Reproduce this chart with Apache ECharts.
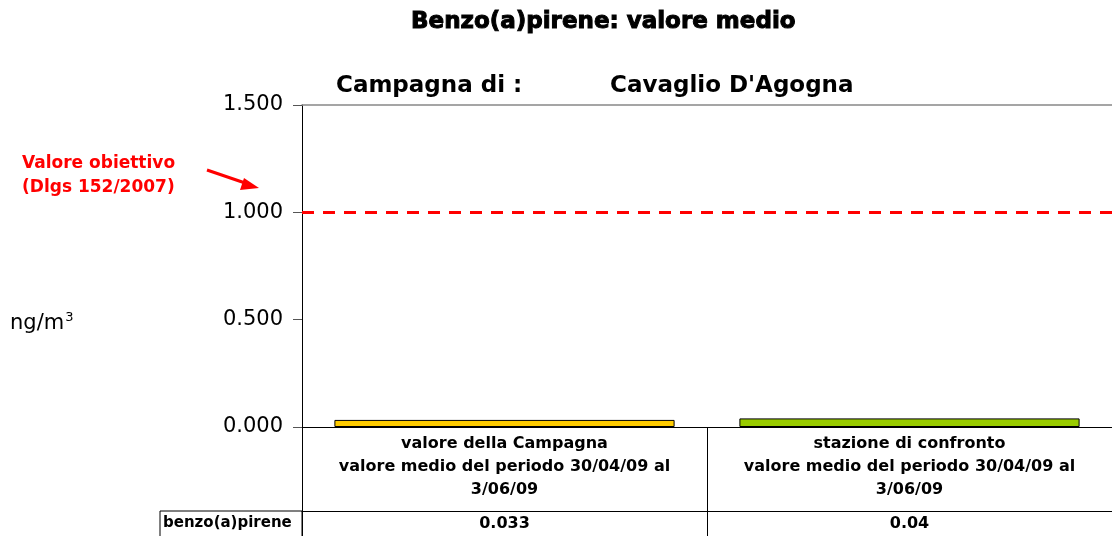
<!DOCTYPE html>
<html>
<head>
<meta charset="utf-8">
<script src="https://cdn.jsdelivr.net/npm/echarts@6/dist/echarts.min.js"></script>
<style>
  html, body { margin: 0; padding: 0; background: #fff; }
  #chart { width: 1112px; height: 536px; }
</style>
</head>
<body>
<div id="chart"></div>
<script>
// categorie e valori (ng/m3)
const categories = [
  'valore della Campagna\nvalore medio del periodo 30/04/09 al\n3/06/09',
  'stazione di confronto\nvalore medio del periodo 30/04/09 al\n3/06/09'
]
const values = [0.033, 0.04]
const valueLabels = ['0.033', '0.04']
const barColors = ['#FFCC00', '#99CC00']
const targetValue = 1.0
const yTicks = [0, 0.5, 1.0, 1.5]

const comic = '"DejaVu Sans", sans-serif'
const myChart = echarts.init(document.getElementById('chart'))

let option = {
  backgroundColor: '#fff',
  animation: false,
  title: [
    {
      text: 'Benzo(a)pirene: valore medio',
      left: 406,
      top: 6,
      textStyle: {
        fontFamily: '"DejaVu Sans", sans-serif', fontWeight: 'bold', fontSize: 23, color: '#000',
        textBorderColor: '#000', textBorderWidth: 1
      }
    },
    {
      text: 'Campagna di :',
      left: 331,
      top: 70,
      textStyle: { fontFamily: '"DejaVu Sans", sans-serif', fontWeight: 'bold', fontSize: 23, color: '#000' }
    },
    {
      text: "Cavaglio D'Agogna",
      left: 605,
      top: 70,
      textStyle: { fontFamily: '"DejaVu Sans", sans-serif', fontWeight: 'bold', fontSize: 23, color: '#000' }
    }
  ],
  grid: { left: 302, right: 0, top: 105, bottom: 109 },
  xAxis: [
    {
      type: 'category',
      data: categories,
      axisLine: { lineStyle: { color: '#000', width: 1 } },
      axisTick: { show: true, length: 109, lineStyle: { color: '#000' } },
      axisLabel: {
        interval: 0,
        margin: 5,
        lineHeight: 23,
        fontFamily: comic,
        fontSize: 16,
        fontWeight: 'bold',
        color: '#000'
      }
    },
    {
      type: 'category',
      data: valueLabels,
      position: 'bottom',
      offset: 84,
      axisLine: { show: true, lineStyle: { color: '#000', width: 1 } },
      axisTick: { show: false },
      axisLabel: { interval: 0, margin: 5, fontFamily: comic, fontSize: 16, fontWeight: 'bold', color: '#000' }
    },
    {
      type: 'category',
      data: categories,
      position: 'top',
      axisLine: { show: true, lineStyle: { color: '#888', width: 1.5 } },
      axisTick: { show: false },
      axisLabel: { show: false }
    }
  ],
  yAxis: {
    type: 'value',
    min: yTicks[0],
    max: yTicks[yTicks.length - 1],
    interval: 0.5,
    axisLine: { show: true, lineStyle: { color: '#000', width: 1 } },
    axisTick: { show: true, length: 9, lineStyle: { color: '#555' } },
    splitLine: { show: false },
    axisLabel: {
      margin: 19,
      fontFamily: '"DejaVu Sans", sans-serif',
      fontSize: 21,
      color: '#000',
      formatter: v => v.toFixed(3)
    }
  },
  series: [
    {
      type: 'bar',
      xAxisIndex: 0,
      barWidth: '84%',
      data: values.map((v, i) => ({
        value: v,
        itemStyle: { color: barColors[i], borderColor: '#000', borderWidth: 1 }
      })),
      markLine: {
        symbol: 'none',
        silent: true,
        label: { show: false },
        lineStyle: { color: '#FF0000', width: 3, type: [12, 9] },
        data: [{ yAxis: targetValue }]
      }
    }
  ],
  graphic: [
    {
      type: 'rect',
      shape: { x: 160, y: 511, width: 142, height: 30 },
      style: { fill: 'none', stroke: '#000', lineWidth: 1 }
    },
    {
      type: 'text',
      left: 163,
      top: 516,
      style: { text: 'benzo(a)pirene', font: 'bold 15px "DejaVu Sans", sans-serif', fill: '#000' }
    },
    {
      type: 'text',
      left: 10,
      top: 311,
      style: {
        text: '{a|ng/m}{b|3}',
        rich: {
          a: { fontFamily: '"DejaVu Sans", sans-serif', fontSize: 21, color: '#000' },
          b: { fontFamily: '"DejaVu Sans", sans-serif', fontSize: 13, color: '#000', verticalAlign: 'top', padding: [0, 0, 12, 1] }
        }
      }
    },
    {
      type: 'text',
      left: 22,
      top: 152,
      style: {
        text: 'Valore obiettivo\n(Dlgs 152/2007)',
        font: 'bold 17px "DejaVu Sans", sans-serif',
        lineHeight: 24,
        fill: '#FF0000'
      }
    },
    {
      type: 'line',
      shape: { x1: 207, y1: 170, x2: 248, y2: 184 },
      style: { stroke: '#FF0000', lineWidth: 3 }
    },
    {
      type: 'polygon',
      shape: { points: [[259, 188], [244, 178], [240, 190]] },
      style: { fill: '#FF0000' }
    }
  ]
}

myChart.setOption(option)
</script>
</body>
</html>
